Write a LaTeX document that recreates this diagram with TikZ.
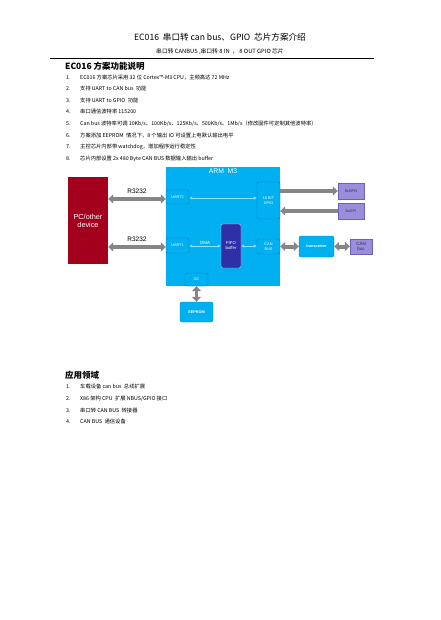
\documentclass[tikz,border=0pt]{standalone}
\usepackage{fontspec}
\setmainfont{Liberation Sans}
\newfontfamily\cjk{Noto Sans CJK SC}
\usetikzlibrary{positioning, arrows.meta}

\definecolor{pcred}{HTML}{A3001E}
\definecolor{armblue}{HTML}{00B0F0}
\definecolor{edgeblue}{HTML}{0A7CC8}
\definecolor{fifoblue}{HTML}{2F2FA8}
\definecolor{ioviolet}{HTML}{9A8DDB}
\definecolor{ioedge}{HTML}{6F5FB8}
\definecolor{busgray}{HTML}{868686}

\tikzset{
  numtext/.style={anchor=west, inner sep=0pt, text height=4.6pt, text depth=1.2pt,
    font=\cjk\fontsize{5.3}{6}\selectfont},
  headtext/.style={anchor=west, inner sep=0pt, font=\cjk\bfseries\fontsize{8.5}{9}\selectfont},
  block/.style={rectangle, rounded corners=2pt, draw=edgeblue, fill=armblue, text=white,
    font=\fontsize{3.8}{4.4}\selectfont, align=center, inner sep=0pt, line width=0.4pt},
  iobox/.style={rectangle, draw=ioedge, fill=ioviolet, text=black!80,
    font=\fontsize{3.8}{4.4}\selectfont, align=center, inner sep=0pt, line width=0.4pt},
  busarrow/.style={draw=busgray, line width=4pt,
    arrows={-Triangle[length=5pt, width=9pt]}},
  busboth/.style={busarrow, arrows={Triangle[length=5pt, width=9pt]-Triangle[length=5pt, width=9pt]}},
  innerarrow/.style={draw=white!60!armblue, line width=0.8pt,
    arrows={Latex[open, length=3pt, width=3.5pt]-Latex[open, length=3pt, width=3.5pt]}},
  tag/.style={font=\fontsize{6.5}{7}\selectfont, inner sep=0.5pt}
}

\begin{document}
\begin{tikzpicture}[x=1pt, y=-1pt]
    \useasboundingbox[fill=white] (0,0) rectangle (440,620);

    % page header
    \node[font=\cjk\fontsize{8.6}{10}\selectfont] (title) at (220,37) {EC016 \ 串口转 can bus、GPIO \ 芯片方案介绍};
    \node[font=\cjk\fontsize{5.8}{7}\selectfont] (subtitle) at (220,51.5) {串口转 CANBUS ,串口转 8 IN \ ， 8 OUT GPIO 芯片};
    \draw[line width=0.6pt] (50,58) -- (374,58);

    \node[headtext] (feat) at (65,66.5) {EC016 方案功能说明};
    \node[numtext] (n1) at (66,77.5) {1.};
    \node[numtext] (t1) at (80,77.5) {EC016 方案芯片采用 32 位 Cortex™-M3 CPU，主频高达 72 MHz};
    \node[numtext] (n2) at (66,89) {2.};
    \node[numtext] (t2) at (80,89) {支持 UART to CAN bus \ 功能};
    \node[numtext] (n3) at (66,100.5) {3.};
    \node[numtext] (t3) at (80,100.5) {支持 UART to GPIO \ 功能};
    \node[numtext] (n4) at (66,112) {4.};
    \node[numtext] (t4) at (80,112) {串口通信波特率 115200};
    \node[numtext] (n5) at (66,124) {5.};
    \node[numtext] (t5) at (80,124) {Can bus 波特率可调 10Kb/s、100Kb/s、125Kb/s、500Kb/s、1Mb/s（修改固件可定制其他波特率）};
    \node[numtext] (n6) at (66,135.5) {6.};
    \node[numtext] (t6) at (80,135.5) {方案添加 EEPROM \ 情况下，8 个输出 IO 可设置上电默认输出电平};
    \node[numtext] (n7) at (66,147) {7.};
    \node[numtext] (t7) at (80,147) {主控芯片内部带 watchdog，增加程序运行稳定性};
    \node[numtext] (n8) at (66,158.5) {8.};
    \node[numtext] (t8) at (80,158.5) {芯片内部设置 2x 480 Byte CAN BUS 数据输入输出 buffer};

    % block diagram
    \node[rectangle, fill=pcred, text=white, minimum width=40pt, minimum height=87pt,
          align=center, font=\fontsize{7.3}{8}\selectfont, inner sep=0pt] (pc) at (88,220.5) {PC/other\\device};
    \node[rectangle, fill=armblue, minimum width=114pt, minimum height=119pt, inner sep=0pt] (arm) at (223,226.5) {};
    \node[below=1.5pt of arm.north, text=white, font=\fontsize{6.8}{7}\selectfont, inner sep=0pt] (armname) {ARM\ \ M3};

    \node[block, minimum width=23pt, minimum height=14pt] (uart2) at (177.5,197) {UART2};
    \node[block, minimum width=23pt, minimum height=15pt] (uart1) at (177.5,245.5) {UART1};
    \node[block, minimum width=23pt, minimum height=37pt] (gpio) at (268.5,200.5) {16 BIT\\GPIO};
    \node[block, draw=white!75!fifoblue, fill=fifoblue, minimum width=20pt, minimum height=44pt,
          font=\fontsize{4.3}{5}\selectfont] (fifo) at (231,246) {FIFO\\buffer};
    \node[block, minimum width=23pt, minimum height=15pt] (canbus) at (268.5,246.5) {CAN\\BUS};
    \node[block, minimum width=23pt, minimum height=13pt] (i2c) at (196.5,279.5) {I2C};
    \node[block, draw=armblue!80!black, minimum width=33pt, minimum height=20pt,
          font=\bfseries\fontsize{3.8}{4.4}\selectfont] (eeprom) at (196.5,312) {EEPROM};
    \node[block, draw=armblue!80!black, minimum width=35pt, minimum height=21pt,
          font=\bfseries\fontsize{3.8}{4.4}\selectfont] (trans) at (316.5,246.5) {transceiver};

    \node[iobox, minimum width=26pt, minimum height=16pt] (gpo) at (351,191) {8xGPO};
    \node[iobox, minimum width=26pt, minimum height=16pt] (gpi) at (351,211) {8xGPI};
    \node[iobox, minimum width=22pt, minimum height=15pt, font=\fontsize{4.5}{5}\selectfont] (canline) at (361,246.5) {CAN\\bus};

    % serial links
    \draw[busboth] (pc.east |- 0,199) -- (uart2.west |- 0,199) node[midway, above=3pt, tag] (r1) {R3232};
    \draw[busboth] (pc.east |- 0,247) -- (uart1.west |- 0,247) node[midway, above=3pt, tag] (r2) {R3232};

    % gpio lines
    \draw[busarrow] (gpio.east |- gpo) -- (gpo.west);
    \draw[busarrow] (gpi.west) -- (gpio.east |- gpi);

    % can side
    \draw[busboth] (canbus.east) -- (trans.west);
    \draw[busboth] (trans.east) -- (canline.west);
    \draw[busboth, line width=3pt] (i2c.south) -- (eeprom.north);

    % inside the mcu
    \draw[innerarrow] (uart2.east |- 0,198) -- (gpio.west |- 0,198);
    \draw[innerarrow] (uart1.east |- fifo) -- (fifo.west) node[midway, above=1pt, text=white,
          font=\fontsize{4.5}{5}\selectfont, inner sep=0pt] (dma) {DMA};
    \draw[innerarrow] (fifo.east) -- (canbus.west |- fifo);

    % applications
    \node[headtext] (apps) at (65,375) {应用领域};
    \node[numtext] (a1) at (66,387) {1.};
    \node[numtext] (b1) at (80,387) {车载设备 can bus \ 总线扩展};
    \node[numtext] (a2) at (66,399) {2.};
    \node[numtext] (b2) at (80,399) {X86 架构 CPU \ 扩展 NBUS/GPIO 接口};
    \node[numtext] (a3) at (66,410.5) {3.};
    \node[numtext] (b3) at (80,410.5) {串口转 CAN BUS \ 转接器};
    \node[numtext] (a4) at (66,422) {4.};
    \node[numtext] (b4) at (80,422) {CAN BUS \ 通信设备};
\end{tikzpicture}
\end{document}
